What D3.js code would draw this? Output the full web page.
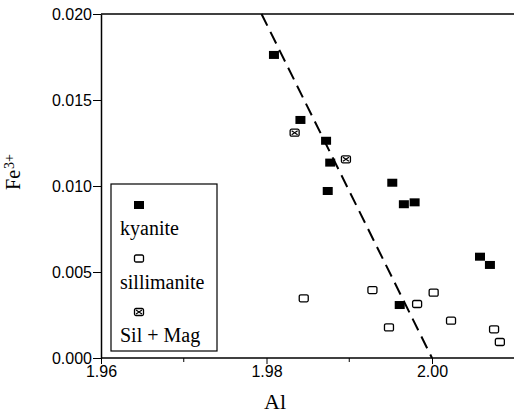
<!DOCTYPE html>
<html>
<head>
<meta charset="utf-8">
<script src="https://cdn.jsdelivr.net/npm/d3@7"></script>
<style>
  body { margin: 0; background: #fff; }
  .tick text { font-family: 'Liberation Sans', Arial, sans-serif; font-size: 16px; fill: #000; }
  .serif { font-family: 'Liberation Serif', 'Times New Roman', serif; fill: #000; }
</style>
</head>
<body>
<div id="viz"></div>
<script>
// ===== DATA =====
const kyaniteAl  = [1.9809, 1.9841, 1.9872, 1.9877, 1.9874, 1.9952, 1.9966, 1.9979, 2.0058, 2.0070, 1.9961];
const kyaniteFe  = [0.01762, 0.01384, 0.01263, 0.01136, 0.00971, 0.01019, 0.00894, 0.00905, 0.00589, 0.00541, 0.00308];

const sillAl = [1.9845, 1.9928, 1.9982, 2.0002, 1.9948, 2.0023, 2.0075, 2.0082];
const sillFe = [0.00347, 0.00395, 0.00314, 0.00380, 0.00178, 0.00217, 0.00167, 0.00093];

const silMagAl = [1.9834, 1.9896];
const silMagFe = [0.01310, 0.01155];

// dashed trend line end points
const trendAl = [1.9794, 2.0000];
const trendFe = [0.020, 0.000];

const xTicks = [1.96, 1.98, 2.00];
const xMinorTicks = [1.97, 1.99];
const yTicks = [0, 0.005, 0.010, 0.015, 0.020];

const legendLabels = ['kyanite', 'sillimanite', 'Sil + Mag'];

// ===== DIMENSIONS =====
const dimensions = {
    width: 514,
    height: 414,
    margin: {top: 14, right: 0, bottom: 56, left: 101},
};
dimensions.boundedWidth = dimensions.width - dimensions.margin.left - dimensions.margin.right;
dimensions.boundedHeight = dimensions.height - dimensions.margin.top - dimensions.margin.bottom;

// ===== CANVAS =====
const svg = d3.select('#viz')
    .append('svg')
        .attr('width', dimensions.width)
        .attr('height', dimensions.height);

const viz = svg.append('g')
    .attr('transform', `translate(${dimensions.margin.left}, ${dimensions.margin.top})`);

// ===== SCALES =====
const xScale = d3.scaleLinear()
    .domain([1.96, 2.00])
    .range([0, 331]);

const yScale = d3.scaleLinear()
    .domain([0, 0.020])
    .range([dimensions.boundedHeight, 0]);

// ===== AXES =====
const yAxis = viz.append('g')
    .call(d3.axisLeft(yScale).tickValues(yTicks).tickFormat(d3.format('.3f')).tickSize(8).tickSizeOuter(0).tickPadding(1))
yAxis.select('.domain').attr('stroke-width', 1.5);

const xAxis = viz.append('g')
    .attr('transform', `translate(0, ${dimensions.boundedHeight})`)
    .call(d3.axisBottom(xScale).tickValues(xTicks).tickFormat(d3.format('.2f')).tickSize(6).tickSizeOuter(0).tickPadding(2));
xAxis.select('.domain').remove();
xAxis.append('line')
    .attr('x1', 0).attr('x2', dimensions.boundedWidth)
    .attr('stroke', '#000').attr('stroke-width', 1.5);
xAxis.selectAll('.minor')
    .data(xMinorTicks)
    .join('line')
        .attr('class', 'minor')
        .attr('x1', d => xScale(d)).attr('x2', d => xScale(d))
        .attr('y1', 0).attr('y2', 4)
        .attr('stroke', '#000');

// top frame line
viz.append('line')
    .attr('x1', 0).attr('x2', dimensions.boundedWidth)
    .attr('y1', 0).attr('y2', 0)
    .attr('stroke', '#000').attr('stroke-width', 1.5);

// ===== TREND LINE =====
const trend = trendAl.map((d, i) => [d, trendFe[i]]);
viz.append('path')
    .attr('d', d3.line().x(d => xScale(d[0])).y(d => yScale(d[1]))(trend))
    .attr('fill', 'none')
    .attr('stroke', '#000')
    .attr('stroke-width', 2)
    .attr('stroke-dasharray', '13,7');

// ===== MARKERS =====
function drawMarker(g, type) {
    if (type === 'kyanite') {
        g.append('rect').attr('x', -5).attr('y', -4).attr('width', 10).attr('height', 8).attr('fill', '#000');
    } else {
        g.append('rect').attr('x', -4.5).attr('y', -3.5).attr('width', 9).attr('height', 7).attr('rx', 1.5)
            .attr('fill', '#fff').attr('stroke', '#000').attr('stroke-width', 1.3);
        if (type === 'silmag') {
            g.append('path').attr('d', 'M-3,-2 L3,2 M-3,2 L3,-2')
                .attr('stroke', '#000').attr('stroke-width', 1.2);
        }
    }
}

const points = [
    ...kyaniteAl.map((d, i) => ({al: d, fe: kyaniteFe[i], type: 'kyanite'})),
    ...sillAl.map((d, i) => ({al: d, fe: sillFe[i], type: 'sill'})),
    ...silMagAl.map((d, i) => ({al: d, fe: silMagFe[i], type: 'silmag'})),
];

viz.selectAll('.pt')
    .data(points)
    .join('g')
        .attr('class', 'pt')
        .attr('transform', d => `translate(${xScale(d.al)}, ${yScale(d.fe)})`)
        .each(function(d) { drawMarker(d3.select(this), d.type); });

// ===== LEGEND =====
const legend = svg.append('g').attr('transform', 'translate(111, 184)');
legend.append('rect')
    .attr('width', 106).attr('height', 167)
    .attr('fill', '#fff').attr('stroke', '#000').attr('stroke-width', 1.2);

const legendTypes = ['kyanite', 'sill', 'silmag'];
legendTypes.forEach((t, i) => {
    const row = legend.append('g').attr('transform', `translate(0, ${i * 53.5})`);
    drawMarker(row.append('g').attr('transform', 'translate(28, 21)'), t);
    row.append('text')
        .attr('class', 'serif')
        .attr('x', 9).attr('y', 51)
        .style('font-size', '20px')
        .text(legendLabels[i]);
});

// ===== AXIS LABELS =====
svg.append('text')
    .attr('class', 'serif')
    .attr('x', 275).attr('y', 409)
    .attr('text-anchor', 'middle')
    .style('font-size', '22px')
    .text('Al');

const yLabel = svg.append('text')
    .attr('class', 'serif')
    .attr('transform', 'translate(20, 172) rotate(-90)')
    .attr('text-anchor', 'middle')
    .style('font-size', '20px');
yLabel.append('tspan').text('Fe');
yLabel.append('tspan').attr('dy', -6).attr('dx', 1).style('font-size', '14px').text('3+');
</script>
</body>
</html>
